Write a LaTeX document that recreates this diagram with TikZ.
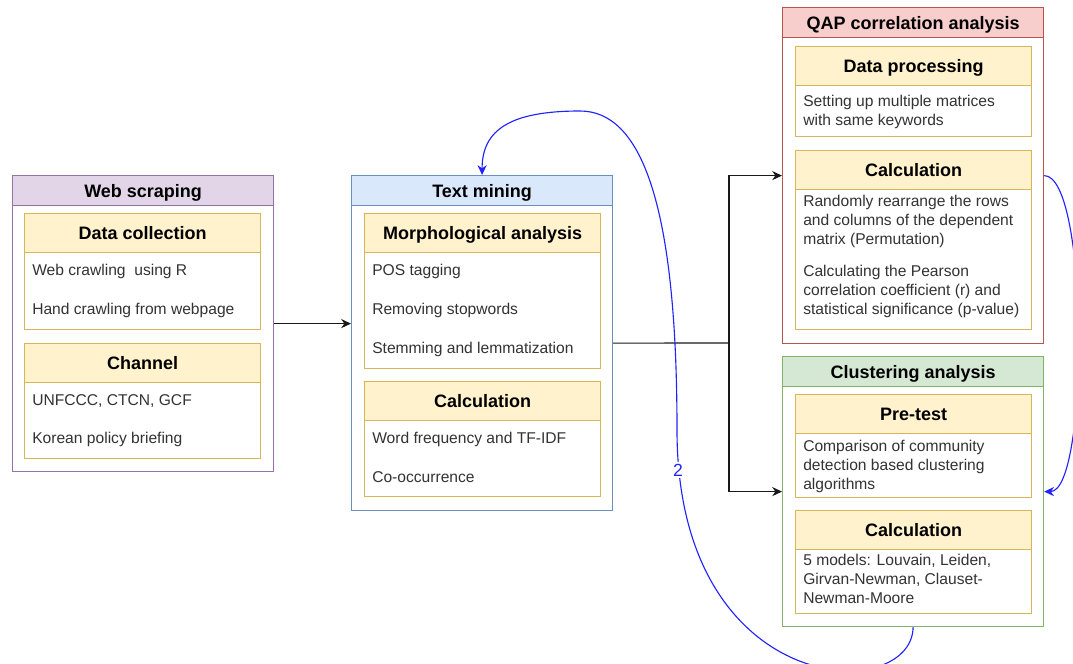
\documentclass[tikz,border=0pt]{standalone}
\usepackage{fontspec}
\setmainfont{Liberation Sans}
\usetikzlibrary{arrows.meta}

\definecolor{scrapeLine}{HTML}{9673A6}
\definecolor{scrapeFill}{HTML}{E1D5E7}
\definecolor{miningLine}{HTML}{6C8EBF}
\definecolor{miningFill}{HTML}{DAE8FC}
\definecolor{qapLine}{HTML}{B85450}
\definecolor{qapFill}{HTML}{F8CECC}
\definecolor{clustLine}{HTML}{82B366}
\definecolor{clustFill}{HTML}{D5E8D4}
\definecolor{stepLine}{HTML}{D6B656}
\definecolor{stepFill}{HTML}{FFF2CC}
\definecolor{loopBlue}{HTML}{2222FF}

\begin{document}
\begin{tikzpicture}[
        x=0.025cm, y=-0.025cm,
        >={Stealth[length=7pt,width=6.5pt]},
        every node/.style={font=\fontsize{11.1}{13.4}\selectfont, text=black!80},
        panelBox/.style={draw=#1, line width=0.8pt, fill=white, minimum width=6.525cm,
            inner sep=0pt, anchor=north west},
        panelHead/.style={draw=#1, line width=0.8pt, minimum width=6.525cm, minimum height=0.75cm,
            inner sep=0pt, anchor=north west, text=black,
            font=\fontsize{12.8}{15}\selectfont\bfseries, text height=9.2pt, text depth=0pt},
        stepBox/.style={draw=stepLine, line width=0.8pt, fill=white, minimum width=5.9cm,
            inner sep=0pt, anchor=north west},
        stepHead/.style={draw=stepLine, fill=stepFill, line width=0.8pt, minimum width=5.9cm,
            minimum height=0.975cm, inner sep=0pt, anchor=north west, text=black,
            font=\fontsize{12.8}{15}\selectfont\bfseries, text height=9.2pt, text depth=0pt},
        itemText/.style={anchor=north west, inner sep=0pt, align=left},
        flowLine/.style={->, black!90, line width=0.8pt},
        loopLine/.style={->, loopBlue, line width=0.8pt},
        loopLabel/.style={fill=white, text=loopBlue, inner sep=1pt, font=\fontsize{12.5}{14}\selectfont}
    ]
        \useasboundingbox (0,0) rectangle (1073,664);

        % Web scraping
        \node[panelBox=scrapeLine, minimum height=7.4cm] (web) at (12,175) {};
        \node[panelHead=scrapeLine, fill=scrapeFill] (webHead) at (12,175) {Web scraping};
        \node[stepBox, minimum height=2.9cm] (collect) at (24,213) {};
        \node[stepHead] (collectHead) at (24,213) {Data collection};
        \node[itemText] (collectA) at (32,264.4) {Web crawling\ \ using R};
        \node[itemText] (collectB) at (32,303.4) {Hand crawling from webpage};
        \node[stepBox, minimum height=2.875cm] (channel) at (24,343) {};
        \node[stepHead] (channelHead) at (24,343) {Channel};
        \node[itemText] (channelA) at (32,394.4) {UNFCCC, CTCN, GCF};
        \node[itemText] (channelB) at (32,432.4) {Korean policy briefing};

        % Text mining
        \node[panelBox=miningLine, minimum height=8.375cm] (mining) at (351,175) {};
        \node[panelHead=miningLine, fill=miningFill] (miningHead) at (351,175) {Text mining};
        \node[stepBox, minimum height=3.875cm] (morph) at (364,213) {};
        \node[stepHead] (morphHead) at (364,213) {Morphological analysis};
        \node[itemText] (morphA) at (372,264.4) {POS tagging};
        \node[itemText] (morphB) at (372,303.4) {Removing stopwords};
        \node[itemText] (morphC) at (372,342.4) {Stemming and lemmatization};
        \node[stepBox, minimum height=2.875cm] (mineCalc) at (364,381) {};
        \node[stepHead] (mineCalcHead) at (364,381) {Calculation};
        \node[itemText] (mineCalcA) at (372,432.4) {Word frequency and TF-IDF};
        \node[itemText] (mineCalcB) at (372,471.4) {Co-occurrence};

        % QAP correlation analysis
        \node[panelBox=qapLine, minimum height=8.4cm] (qap) at (782,7) {};
        \node[panelHead=qapLine, fill=qapFill] (qapHead) at (782,7) {QAP correlation analysis};
        \node[stepBox, minimum height=2.25cm] (process) at (795,46) {};
        \node[stepHead] (processHead) at (795,46) {Data processing};
        \node[itemText] (processA) at (803,95.4) {Setting up multiple matrices\\with same keywords};
        \node[stepBox, minimum height=4.475cm] (qapCalc) at (795,150) {};
        \node[stepHead] (qapCalcHead) at (795,150) {Calculation};
        \node[itemText] (qapCalcA) at (803,195.4) {Randomly rearrange the rows\\and columns of the dependent\\matrix (Permutation)};
        \node[itemText] (qapCalcB) at (803,265.4) {Calculating the Pearson\\correlation coefficient (r) and\\statistical significance (p-value)};

        % Clustering analysis
        \node[panelBox=clustLine, minimum height=6.75cm] (clust) at (782,356) {};
        \node[panelHead=clustLine, fill=clustFill] (clustHead) at (782,356) {Clustering analysis};
        \node[stepBox, minimum height=2.575cm] (pretest) at (795,394) {};
        \node[stepHead] (pretestHead) at (795,394) {Pre-test};
        \node[itemText] (pretestA) at (803,440.4) {Comparison of community\\detection based clustering\\algorithms};
        \node[stepBox, minimum height=2.575cm] (clustCalc) at (795,510) {};
        \node[stepHead] (clustCalcHead) at (795,510) {Calculation};
        \node[itemText] (clustCalcA) at (803,554.4) {5 models: Louvain, Leiden,\\Girvan-Newman, Clauset-\\Newman-Moore};

        % flow between the stages
        \coordinate (split) at (729,343);
        \draw[flowLine] (web.east) -- (web.east -| mining.west);
        \draw[flowLine, -] (mining.east) -- (split);
        \draw[flowLine] (split) |- (qap.west);
        \draw[flowLine] (split) |- (clust.west);

        % feedback loops
        \draw[loopLine] (qap.east) .. controls +(45,0) and +(45,0) .. (clust.east);
        \draw[loopLine] (clust.south) .. controls (912,705) and (677,700) .. (677,430)
            .. controls (677,200) and (640,111) .. (580,111)
            .. controls (510,111) and (482,130) .. (mining.north);
        \node[loopLabel] (loopNum) at (678,470) {2};

    \end{tikzpicture}
\end{document}
